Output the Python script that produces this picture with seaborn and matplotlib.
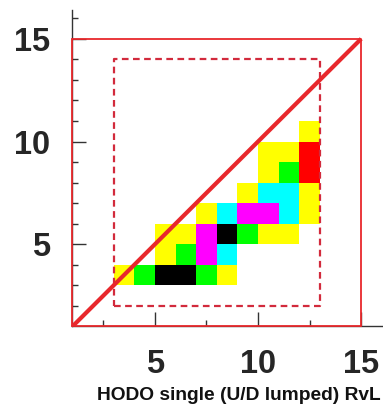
import numpy as np
import pandas as pd
import matplotlib
matplotlib.use("Agg")
import matplotlib.pyplot as plt
from matplotlib.colors import ListedColormap
import seaborn as sns

# ---- data: cell centres (x, y) and colour level ----
# levels: 1=yellow, 2=green, 3=cyan, 4=magenta, 5=red, 6=black
x_vals = [3.5, 4.5, 5.5, 6.5, 7.5, 8.5,
          5.5, 6.5, 7.5, 8.5,
          5.5, 6.5, 7.5, 8.5, 9.5, 10.5, 11.5,
          7.5, 8.5, 9.5, 10.5, 11.5, 12.5,
          9.5, 10.5, 11.5, 12.5,
          10.5, 11.5, 12.5,
          10.5, 11.5, 12.5,
          12.5]
y_vals = [3.5, 3.5, 3.5, 3.5, 3.5, 3.5,
          4.5, 4.5, 4.5, 4.5,
          5.5, 5.5, 5.5, 5.5, 5.5, 5.5, 5.5,
          6.5, 6.5, 6.5, 6.5, 6.5, 6.5,
          7.5, 7.5, 7.5, 7.5,
          8.5, 8.5, 8.5,
          9.5, 9.5, 9.5,
          10.5]
levels = [1, 2, 6, 6, 2, 1,
          1, 2, 4, 3,
          1, 1, 4, 6, 2, 1, 1,
          1, 3, 4, 4, 3, 1,
          1, 3, 3, 1,
          1, 2, 5,
          1, 1, 5,
          1]
level_colors = ["#ffff00", "#00ff00", "#00ffff", "#ff00ff", "#ff0000", "#000000"]

x_ticks_major = [5, 10, 15]
y_ticks_major = [5, 10, 15]
x_label = "HODO single (U/D lumped) RvL"

df = pd.DataFrame({"x": x_vals, "y": y_vals, "w": levels})

sns.set_style("ticks")
plt.rcParams["font.family"] = ["Liberation Sans", "DejaVu Sans"]

fig = plt.figure(figsize=(3.83, 4.08), dpi=100)
ax = fig.add_axes([0.189, 0.1998, 0.808, 0.7757])

sns.histplot(data=df, x="x", y="y", weights="w", binwidth=1,
             binrange=((3, 13), (3, 11)),
             cmap=ListedColormap(level_colors), vmin=0.5, vmax=6.5, ax=ax)

red = "#e8282c"
# outer red box
ax.plot([1, 15, 15], [15, 15, 1], color=red, lw=1.3, zorder=3, clip_on=False)
ax.plot([1, 1], [1, 15], color=red, lw=1.3, zorder=5, clip_on=False)
ax.plot([1, 15], [1, 1], color=red, lw=1.3, zorder=5, clip_on=False)
# dashed inner box
ax.plot([3, 13, 13, 3, 3], [2, 2, 14, 14, 2], color="#d22a3c", lw=1.6,
        ls=(0, (3, 2)), zorder=4)
# diagonal
ax.plot([1, 15], [1, 15], color=red, lw=3.0, zorder=6, solid_capstyle="butt")

ax.set_xlim(1, 16)
ax.set_ylim(1, 16.4)
ax.set_xlabel("")
ax.set_ylabel("")

for s in ["top", "right"]:
    ax.spines[s].set_visible(False)
for s in ["left", "bottom"]:
    ax.spines[s].set_color("#333333")
    ax.spines[s].set_linewidth(1.0)

ax.set_xticks(x_ticks_major)
ax.set_yticks(y_ticks_major)
ax.set_xticks([2.5, 7.5, 12.5], minor=True)
ax.set_yticks([v for v in range(2, 17) if v not in y_ticks_major], minor=True)
ax.tick_params(which="major", direction="in", length=10, width=1.0,
               color="#333333", pad=16, labelsize=23.5)
ax.tick_params(which="minor", direction="in", length=4.5, width=1.0,
               color="#333333")
for lab in ax.get_xticklabels() + ax.get_yticklabels():
    lab.set_fontweight("bold")

fig.text(0.993, 0.02, x_label, ha="right", va="baseline",
         fontsize=13.8, fontweight="bold", color="#111111")

fig.savefig("out.png", dpi=100)
